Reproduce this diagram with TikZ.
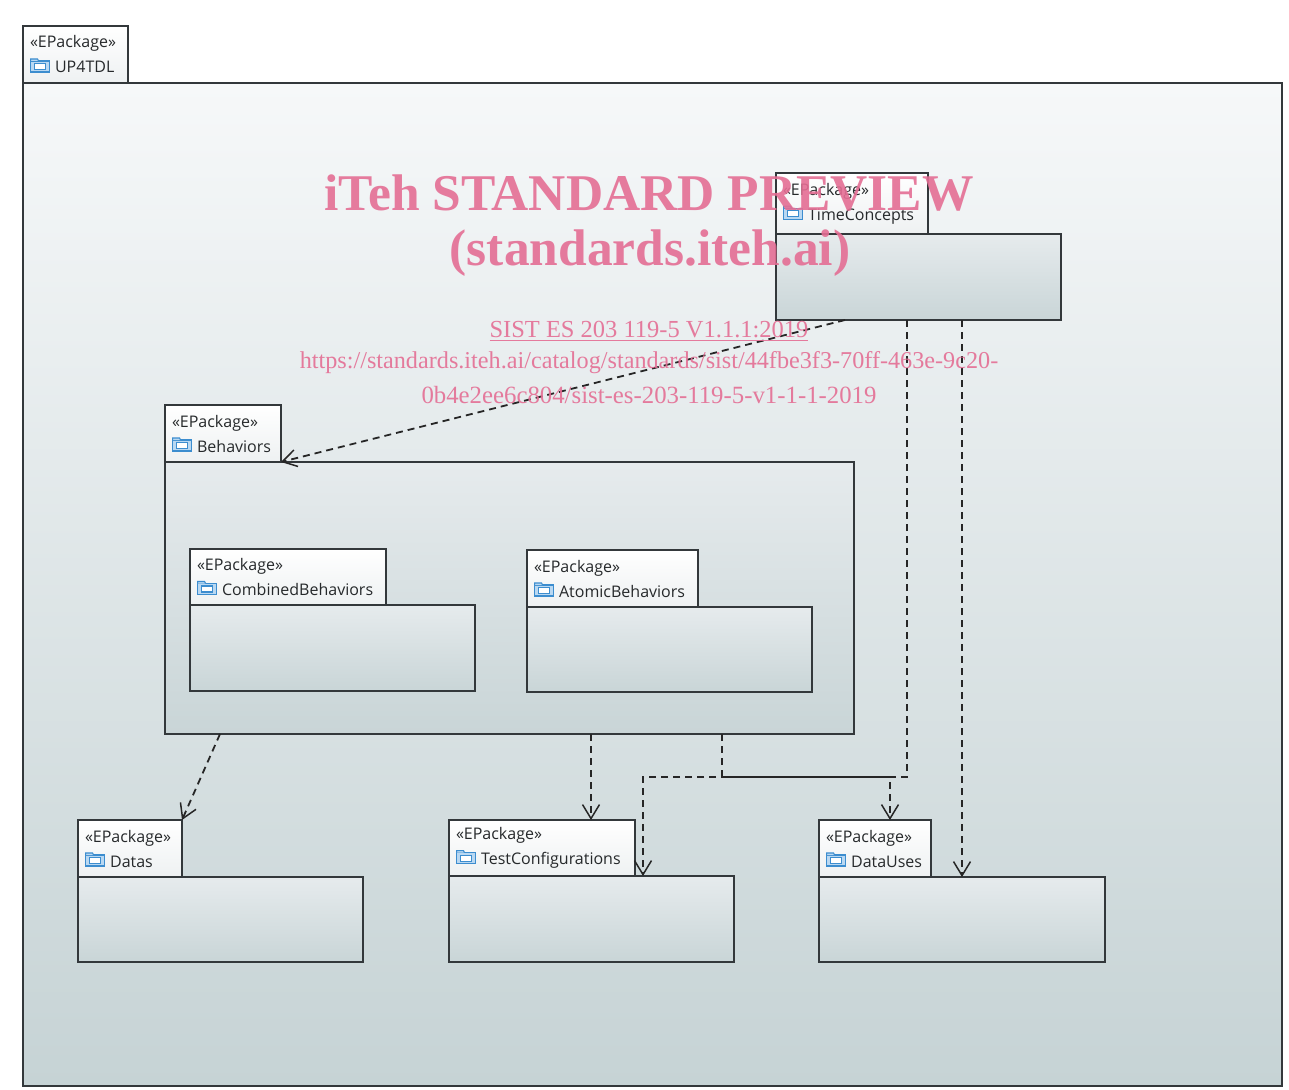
\documentclass[tikz,border=0pt]{standalone}
\usepackage{fontspec}
\setmainfont{Liberation Serif}
\newfontfamily\pkgfamily{Open Sans}
\usetikzlibrary{arrows.meta}

\definecolor{pkgline}{HTML}{33383B}
\definecolor{pkgtext}{HTML}{26292B}
\definecolor{tabbot}{HTML}{EEF1F2}
\definecolor{bodytop}{HTML}{E6EBED}
\definecolor{bodybot}{HTML}{C9D5D7}
\definecolor{outertop}{HTML}{F6F8F9}
\definecolor{outerbot}{HTML}{C6D3D5}
\definecolor{iconblue}{HTML}{3C8DCF}
\definecolor{iconfill}{HTML}{B9D8F2}
\definecolor{wmpink}{RGB}{228,110,148}

\def\pkgfont{\pkgfamily\fontsize{16}{25}\selectfont}
\newcommand\pkgicon{\tikz[baseline=-1pt,x=1pt,y=1pt,line width=1.1pt]{%
  \draw[iconblue, fill=iconfill] (0,0) rectangle (19,11);
  \draw[iconblue, fill=iconfill] (0,11) -- (0,13) -- (7,13) -- (8,11);
  \draw[iconblue, fill=white] (4,2.5) rectangle (15,8.5);}}

\begin{document}
\begin{tikzpicture}[x=1pt, y=-1pt,
    pkgtab/.style={draw=pkgline, line width=1.8pt, top color=white, bottom color=tabbot,
      anchor=north west, align=left, text width=#1, inner xsep=7pt, inner ysep=0pt,
      outer sep=0pt, text=pkgtext, font=\pkgfont},
    pkgbody/.style={draw=pkgline, line width=1.8pt, top color=bodytop, bottom color=bodybot,
      anchor=north west, inner sep=0pt, outer sep=0pt},
    outerbody/.style={pkgbody, top color=outertop, bottom color=outerbot},
    dep/.style={draw=black!85, line width=1.8pt, dash pattern=on 7pt off 5pt,
      -{Straight Barb[length=14pt,width=17pt,line width=1.5pt]}},
    wmark/.style={text=wmpink, opacity=0.9, anchor=center, inner sep=0pt}]
  \useasboundingbox[fill=white] (0,0) rectangle (1289,1089);

  % outer package
  \node[pkgtab=91pt, minimum height=57pt] (up-tab) at (23,26) {«EPackage»\\\pkgicon\hspace{5pt}UP4TDL};
  \node[outerbody, minimum width=1259pt, minimum height=1003pt] (up-body) at (up-tab.south west) {};

  % inner packages
  \node[pkgtab=138pt, minimum height=61pt] (tc-tab) at (776,173) {«EPackage»\\\pkgicon\hspace{5pt}TimeConcepts};
  \node[pkgbody, minimum width=285pt, minimum height=86pt] (tc-body) at (tc-tab.south west) {};

  \node[pkgtab=102pt, minimum height=57pt] (beh-tab) at (165,405) {«EPackage»\\\pkgicon\hspace{5pt}Behaviors};
  \node[pkgbody, minimum width=689pt, minimum height=272pt] (beh-body) at (beh-tab.south west) {};

  \node[pkgtab=182pt, minimum height=56pt] (cb-tab) at (190,549) {«EPackage»\\\pkgicon\hspace{5pt}CombinedBehaviors};
  \node[pkgbody, minimum width=285pt, minimum height=86pt] (cb-body) at (cb-tab.south west) {};

  \node[pkgtab=157pt, minimum height=57pt] (ab-tab) at (527,550) {«EPackage»\\\pkgicon\hspace{5pt}AtomicBehaviors};
  \node[pkgbody, minimum width=285pt, minimum height=85pt] (ab-body) at (ab-tab.south west) {};

  \node[pkgtab=90pt, minimum height=57pt] (da-tab) at (78,820) {«EPackage»\\\pkgicon\hspace{5pt}Datas};
  \node[pkgbody, minimum width=285pt, minimum height=85pt] (da-body) at (da-tab.south west) {};

  \node[pkgtab=172pt, minimum height=56pt] (tcf-tab) at (449,820) {«EPackage»\\\pkgicon\hspace{5pt}TestConfigurations};
  \node[pkgbody, minimum width=285pt, minimum height=86pt] (tcf-body) at (tcf-tab.south west) {};

  \node[pkgtab=98pt, minimum height=57pt] (du-tab) at (819,820) {«EPackage»\\\pkgicon\hspace{5pt}DataUses};
  \node[pkgbody, minimum width=286pt, minimum height=85pt] (du-body) at (du-tab.south west) {};

  % dependencies
  \draw[dep] ([xshift=69pt]tc-body.south west) -- (beh-tab.south east);
  \draw[dep] ([xshift=55pt]beh-body.south west) -- (da-tab.north east);
  \draw[dep] ([xshift=426pt]beh-body.south west) -- ([xshift=142pt]tcf-tab.north west);
  \draw[dep] ([xshift=557pt]beh-body.south west) -- ++(0,43) -| ([xshift=71pt]du-tab.north west);
  \draw[dep] ([xshift=131pt]tc-body.south west) -- ++(0,457) -| ([xshift=194pt]tcf-body.north west);
  \draw[dep] ([xshift=186pt]tc-body.south west) -- ([xshift=143pt]du-body.north west);

  % watermark
  \node[wmark, font=\bfseries\fontsize{51.5}{50}\selectfont] (wm-title) at (649,193) {iTeh STANDARD PREVIEW};
  \node[wmark, font=\bfseries\fontsize{51.5}{50}\selectfont] (wm-site) at (650,253) {(standards.iteh.ai)};
  \node[wmark, font=\fontsize{24.5}{24.5}\selectfont] (wm-ref) at (649,331) {\underline{SIST ES 203 119-5 V1.1.1:2019}};
  \node[wmark, font=\fontsize{24.2}{24.2}\selectfont] (wm-url) at (649,363) {https://standards.iteh.ai/catalog/standards/sist/44fbe3f3-70ff-463e-9c20-};
  \node[wmark, font=\fontsize{24.8}{24.8}\selectfont] (wm-url2) at (649,395) {0b4e2ee6c804/sist-es-203-119-5-v1-1-1-2019};
\end{tikzpicture}
\end{document}
